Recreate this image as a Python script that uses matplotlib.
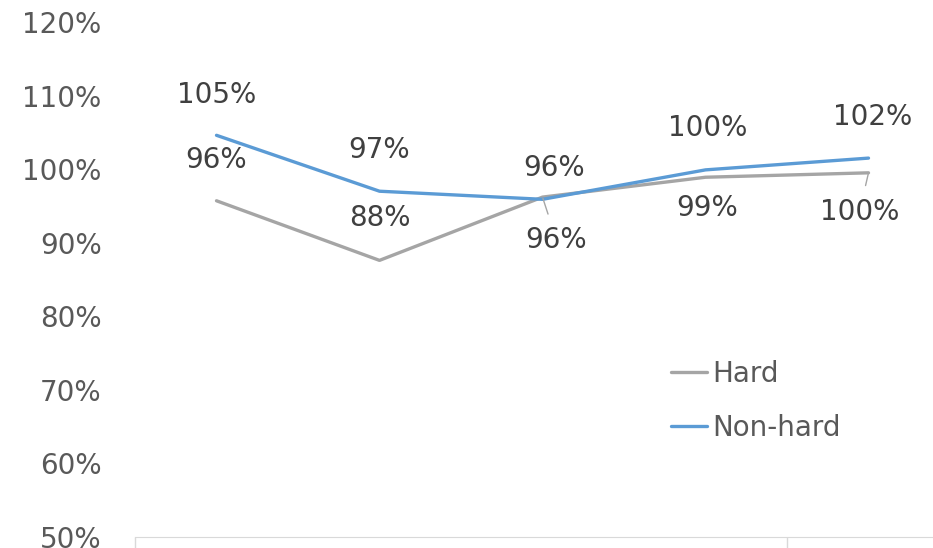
import matplotlib.pyplot as plt

# category positions (the x labels are cut off in the source image)
cats = [0, 1, 2, 3, 4]
hard = [95.7, 87.6, 96.2, 98.9, 99.5]
non_hard = [104.6, 97.0, 95.9, 99.9, 101.5]
hard_lbl = ['96%', '88%', '96%', '99%', '100%']
non_hard_lbl = ['105%', '97%', '96%', '100%', '102%']
yticks = [50, 60, 70, 80, 90, 100, 110, 120]

GREY = '#A5A5A5'
BLUE = '#5B9BD5'
TXT = '#404040'
FS = 20

fig = plt.figure(figsize=(9.33, 5.48), dpi=100)
ax = fig.add_axes([135/933, 11/548, 815/933, 515/548])

ax.plot(cats, hard, color=GREY, lw=2.4, label='Hard', solid_capstyle='round')
ax.plot(cats, non_hard, color=BLUE, lw=2.4, label='Non-hard', solid_capstyle='round')

ax.set_xlim(-0.5, 4.5)
ax.set_ylim(50, 120)
ax.set_yticks(yticks)
ax.set_yticklabels([f'{v}%' for v in yticks])
ax.tick_params(axis='y', length=0, pad=24, labelsize=FS, labelcolor='#595959')
ax.set_xticks([-0.5, 3.5])
ax.set_xticklabels([])
ax.tick_params(axis='x', length=10, color='#D9D9D9', width=1)
for s in ['top', 'right', 'left']:
    ax.spines[s].set_visible(False)
ax.spines['bottom'].set_color('#D9D9D9')

# data labels (offsets in pixels)
nh_off = [(0, 40), (0, 41), (12, 31), (2, 42), (4, 41)]
for x, y, t, o in zip(cats, non_hard, non_hard_lbl, nh_off):
    ax.annotate(t, (x, y), xytext=o, textcoords='offset pixels',
                ha='center', va='center', fontsize=FS, color=TXT)

h_off = [(0, 41), (0, 42), (14, -43), (2, -31), (-9, -39)]
for i, (x, y, t, o) in enumerate(zip(cats, hard, hard_lbl, h_off)):
    arrow = None
    if i in (2, 4):
        arrow = dict(arrowstyle='-', color=GREY, lw=1, shrinkA=7, shrinkB=1)
    ax.annotate(t, (x, y), xytext=o, textcoords='offset pixels',
                ha='center', va='center', fontsize=FS, color=TXT,
                arrowprops=arrow)

leg = ax.legend(loc='upper left', bbox_to_anchor=(671/933, 1 - 360/548),
                bbox_transform=fig.transFigure, frameon=False, fontsize=FS,
                handlelength=1.3, handletextpad=0.18, borderpad=0,
                borderaxespad=0, labelspacing=0.92)
for t in leg.get_texts():
    t.set_color('#595959')

fig.savefig('out.png', dpi=100)
